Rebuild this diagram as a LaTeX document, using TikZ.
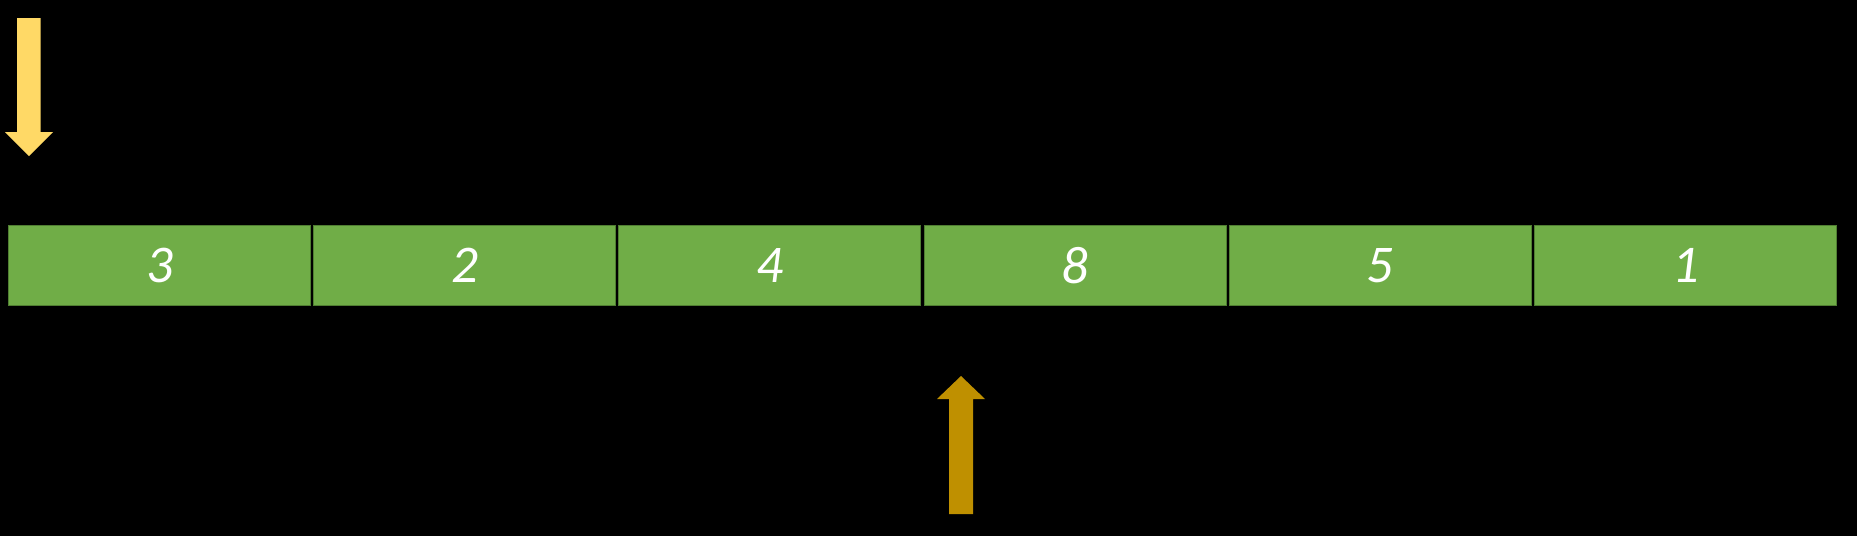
\documentclass[tikz,border=0pt]{standalone}
\usepackage{fontspec}
\newfontfamily\cellfont{Carlito}
\usepackage{xcolor}
\usetikzlibrary{positioning}
\definecolor{cellgreen}{HTML}{70AD47}
\definecolor{cellborder}{HTML}{507E32}
\definecolor{ptryellow}{HTML}{FFD966}
\definecolor{ptrorange}{HTML}{BF9000}

\begin{document}
\begin{tikzpicture}[
        %We work in pixels of the picture, y going down
        x=1pt, y=-1pt,
        cell/.style={draw=cellborder, fill=cellgreen, line width=1pt,
            minimum width=302pt, minimum height=80pt, inner sep=0pt, outer sep=0pt,
            text=white, font=\cellfont\itshape\fontsize{53}{53}\selectfont},
        pointer/.style={draw=none}
    ]
    % Important lengths are defined
    \newcommand\gap{3.2pt}

    % Background
    \fill[black] (0,0) rectangle (1857,536);
    \useasboundingbox (0,0) rectangle (1857,536);

    % Cells of the array
    \node[cell] (c1) at (159.5,265.5) {3};
    \node[cell, right=\gap of c1] (c2) {2};
    \node[cell, right=\gap of c2] (c3) {4};
    \node[cell, right=\gap of c3] (c4) {8};
    \node[cell, right=\gap of c4] (c5) {5};
    \node[cell, right=\gap of c5] (c6) {1};

    % Left pointer
    \fill[pointer, ptryellow] (17,18) -- (40.7,18) -- (40.7,132) -- (53,132)
        -- (29,156) -- (5,132) -- (17,132) -- cycle;
    % Right pointer
    \fill[pointer, ptrorange] (949,514) -- (973,514) -- (973,399) -- (985,399)
        -- (961,376) -- (937,399) -- (949,399) -- cycle;
\end{tikzpicture}
\end{document}
